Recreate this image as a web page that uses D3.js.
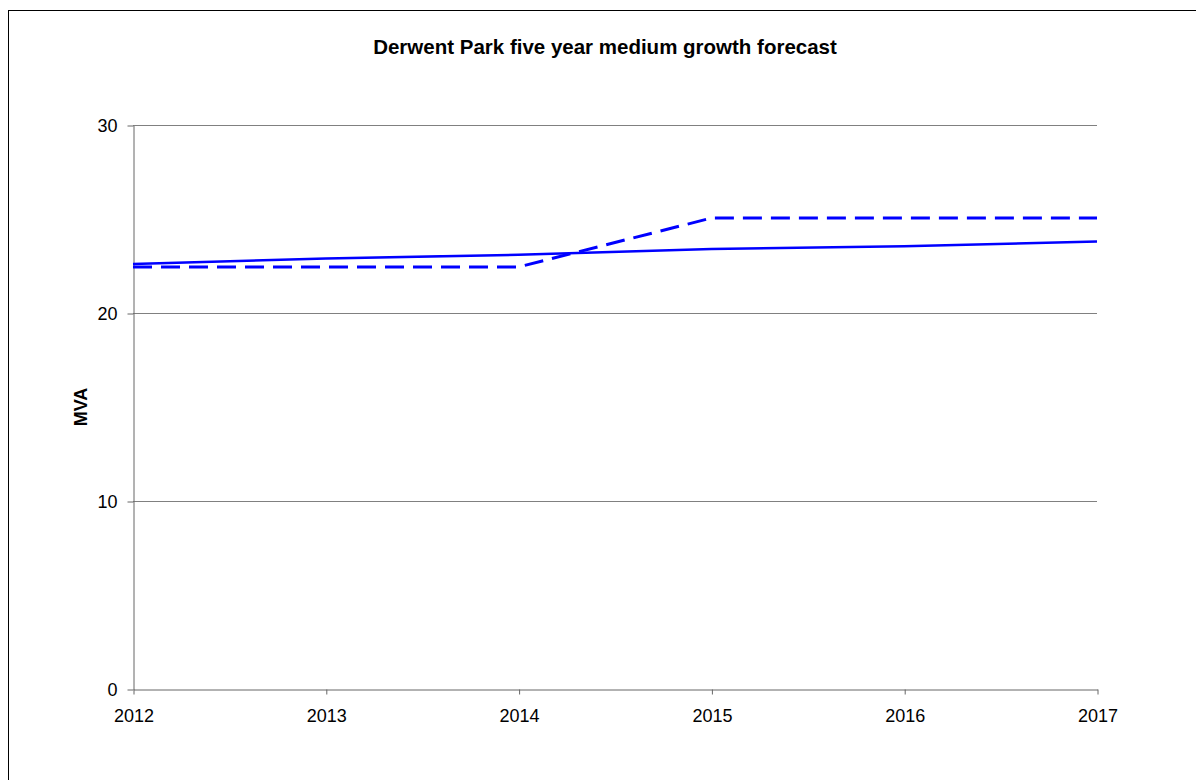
<!DOCTYPE html>
<html>
<head>
<meta charset="utf-8">
<script src="https://cdn.jsdelivr.net/npm/d3@7"></script>
<style>
  body { margin: 0; background: #fff; }
  text { font-family: "Liberation Sans", Arial, sans-serif; }
</style>
</head>
<body>
<div id="chart"></div>
<script>
// chart data
var years = ["2012", "2013", "2014", "2015", "2016", "2017"];
var forecast = [22.6, 22.9, 23.1, 23.4, 23.55, 23.8];
var capacity = [22.45, 22.45, 22.45, 25.05, 25.05, 25.05];
var yTicks = [0, 10, 20, 30];

var margin = { top: 125, right: 99, bottom: 91, left: 133 },
  width = 1196 - margin.left - margin.right,
  height = 780 - margin.top - margin.bottom;

var svg = d3
  .select("#chart")
  .append("svg")
  .attr("width", 1196)
  .attr("height", 780);

// outer frame (right and bottom edges fall outside the picture)
svg
  .append("rect")
  .attr("x", 8.5)
  .attr("y", 10.5)
  .attr("width", 1200)
  .attr("height", 800)
  .attr("fill", "none")
  .attr("stroke", "#000")
  .attr("stroke-width", 1);

svg
  .append("text")
  .attr("x", 605)
  .attr("y", 54)
  .attr("text-anchor", "middle")
  .style("font-size", "20.5px")
  .style("font-weight", "bold")
  .text("Derwent Park five year medium growth forecast");

var g = svg
  .append("g")
  .attr("transform", "translate(" + margin.left + "," + margin.top + ")");

var x = d3.scalePoint().domain(years).range([0, width]);
var y = d3.scaleLinear().domain([0, 30]).range([height, 0]);

// gridlines
g.selectAll(".grid")
  .data(yTicks.slice(1))
  .enter()
  .append("line")
  .attr("class", "grid")
  .attr("x1", 0)
  .attr("x2", width)
  .attr("y1", function (d) { return Math.round(y(d)) + 0.5; })
  .attr("y2", function (d) { return Math.round(y(d)) + 0.5; })
  .attr("stroke", "#808080")
  .attr("stroke-width", 1);

var yAxis = g
  .append("g")
  .attr("transform", "translate(0.5,0.5)")
  .call(d3.axisLeft(y).tickValues(yTicks).tickSize(6).tickSizeOuter(0).tickPadding(10));

var xAxis = g
  .append("g")
  .attr("transform", "translate(0.5," + (Math.round(height) + 0.5) + ")")
  .call(d3.axisBottom(x).tickSize(5).tickSizeOuter(0).tickPadding(15));

[xAxis, yAxis].forEach(function (a) {
  a.select(".domain").attr("stroke", "#666");
  a.selectAll(".tick line").attr("stroke", "#666");
  a.selectAll("text")
    .style("font-family", "'Liberation Sans', Arial, sans-serif")
    .style("font-size", "18px")
    .attr("fill", "#000");
});

svg
  .append("text")
  .attr("transform", "translate(87," + (margin.top + height / 2) + ") rotate(-90)")
  .attr("text-anchor", "middle")
  .style("font-size", "18px")
  .style("font-weight", "bold")
  .text("MVA");

var line = d3
  .line()
  .x(function (d, i) { return x(years[i]); })
  .y(function (d) { return y(d); });

g.append("path")
  .datum(capacity)
  .attr("d", line)
  .attr("fill", "none")
  .attr("stroke", "#0000ff")
  .attr("stroke-width", 3)
  .attr("stroke-dasharray", "19,9");

g.append("path")
  .datum(forecast)
  .attr("d", line)
  .attr("fill", "none")
  .attr("stroke", "#0000ff")
  .attr("stroke-width", 2.5);
</script>
</body>
</html>
